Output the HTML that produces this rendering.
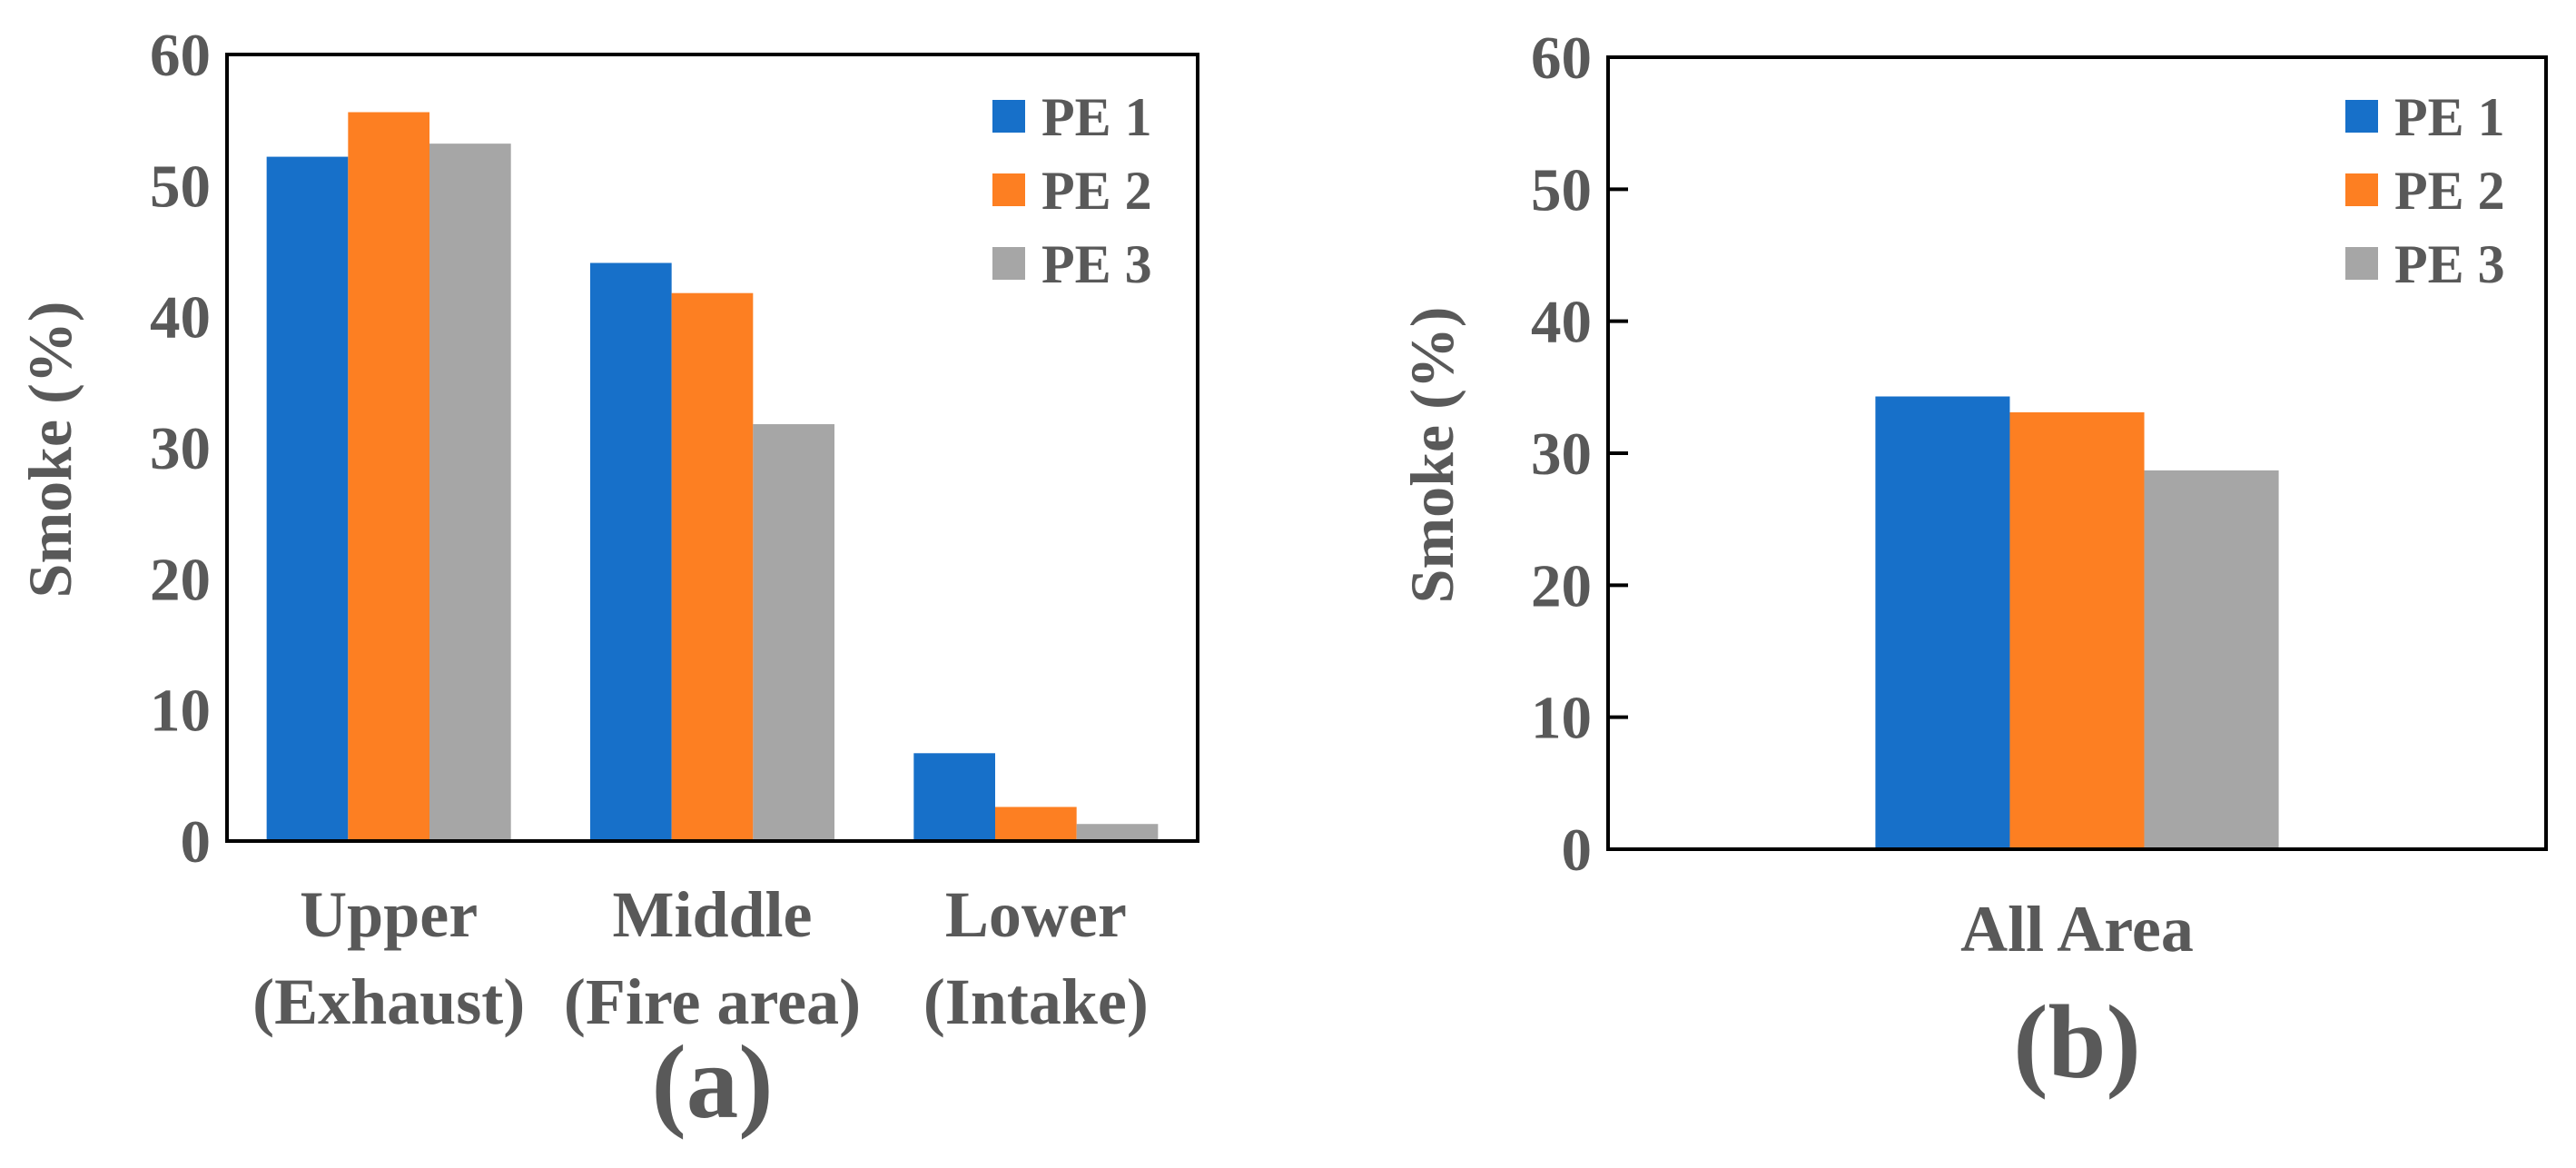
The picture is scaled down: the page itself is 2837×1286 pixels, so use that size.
<!DOCTYPE html>
<html><head><meta charset="utf-8"><style>
html,body{margin:0;padding:0;background:#fff;}
svg text{font-family:"Liberation Serif",serif;font-weight:bold;fill:#595959;}
</style></head><body>
<svg id="fig" width="2837" height="1281" viewBox="0 0 2837 1281" xmlns="http://www.w3.org/2000/svg"></svg>
<script>
const series = ["PE 1","PE 2","PE 3"];
const colors = ["#1770C9","#FD7F22","#A6A6A6"];
const catsA = [["Upper","(Exhaust)"],["Middle","(Fire area)"],["Lower","(Intake)"]];
const pe1A = [52.2, 44.1, 6.7];
const pe2A = [55.6, 41.8, 2.6];
const pe3A = [53.2, 31.8, 1.3];
const catsB = [["All Area"]];
const pe1B = [34.3];
const pe2B = [33.1];
const pe3B = [28.7];
const yTicks = [0,10,20,30,40,50,60];

const NS="http://www.w3.org/2000/svg";
const svg=document.getElementById('fig');
function mk(tag,attrs,parent){const e=document.createElementNS(NS,tag);for(const k in attrs)e.setAttribute(k,attrs[k]);(parent||svg).appendChild(e);return e;}

function chart(cfg){
  const g=mk('g',{});
  
  
  const L=cfg.left,R=cfg.right,T=cfg.top,B=cfg.bottom;
  const y=v=>B-(v/60)*(B-T);
  const n=cfg.cats.length, cw=(R-L)/n;
  const bw=cw*cfg.barFrac/3;
  const data=[cfg.s1,cfg.s2,cfg.s3];
  for(let i=0;i<n;i++){
    const cx=L+cw*(i+0.5);
    for(let s=0;s<3;s++){
      const v=data[s][i];
      const r=mk('rect',{x:cx-1.5*bw+s*bw,y:y(v),width:bw,height:B-y(v),fill:colors[s]},g);
      
      
    }
    cfg.cats[i].forEach((line,k)=>{
      const t=mk('text',{x:cx,y:cfg.catY+k*96,'text-anchor':'middle','font-size':72},g);
      t.textContent=line;
      
      
    });
  }
  const f=mk('rect',{x:L,y:T,width:R-L,height:B-T,fill:'none',stroke:'#000','stroke-width':4},g);
  
  
  yTicks.forEach(v=>{
    if(cfg.ticks){mk('line',{x1:L,x2:L+22,y1:y(v),y2:y(v),stroke:'#000','stroke-width':4},g);}
    const t=mk('text',{x:L-18,y:y(v)+23,'text-anchor':'end','font-size':67},g);
    t.textContent=v;
    
    
  });
  const yt=mk('text',{x:0,y:0,'text-anchor':'middle','font-size':68,transform:`translate(${cfg.titleX},${(T+B)/2+2}) rotate(-90)`},g);
  yt.textContent='Smoke (%)';
  
  
  series.forEach((s,i)=>{
    const ly=128+i*81;
    const sq=mk('rect',{x:cfg.legX,y:ly-18,width:36,height:36,fill:colors[i]},g);
    
    
    const t=mk('text',{x:cfg.legX+54,y:ly+21,'font-size':60},g);
    t.textContent=s;
    
    
  });
  const p=mk('text',{x:(L+R)/2,y:cfg.panelY,'text-anchor':'middle','font-size':115},g);
  p.textContent=cfg.panel;
  
  
}
chart({name:'chart-a',tag:'a',left:250,right:1319,top:60,bottom:926,cats:catsA,s1:pe1A,s2:pe2A,s3:pe3A,barFrac:0.755,catY:1031,titleX:78,legX:1093,panel:'(a)',panelY:1230,ticks:false});
chart({name:'chart-b',tag:'b',left:1771,right:2804,top:63,bottom:935,cats:catsB,s1:pe1B,s2:pe2B,s3:pe3B,barFrac:0.43,catY:1047,titleX:1600,legX:2583,panel:'(b)',panelY:1186,ticks:true});
</script>
</body></html>
